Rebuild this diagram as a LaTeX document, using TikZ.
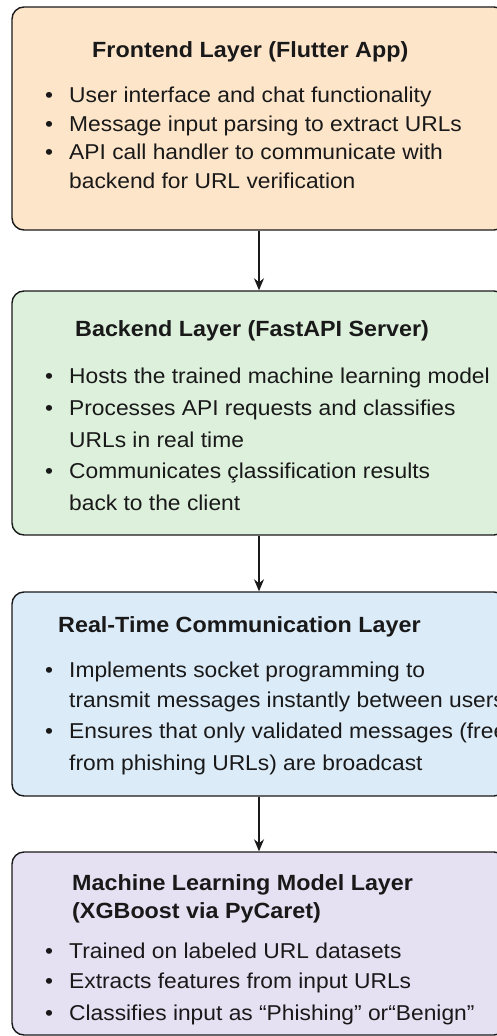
\documentclass[tikz,border=0pt]{standalone}
\usepackage{fontspec}
\setmainfont{Liberation Sans}[FakeStretch=1.06]
\usetikzlibrary{arrows.meta}
\definecolor{cfront}{HTML}{FDE5CA}
\definecolor{cback}{HTML}{DDF0DC}
\definecolor{creal}{HTML}{DCEBF8}
\definecolor{cml}{HTML}{E5E1F3}
\definecolor{cline}{HTML}{1A1A1A}
\tikzset{
  layerbox/.style={draw=cline, line width=1.4pt, rounded corners=12pt, minimum width=494pt, inner sep=0pt},
  ttl/.style={anchor=base west, inner sep=0pt, font=\fontsize{22}{26}\selectfont\bfseries, text=black!90},
  txt/.style={anchor=base west, inner sep=0pt, font=\fontsize{21.5}{26}\selectfont, text=black!90},
  bul/.style={anchor=base, inner sep=0pt, font=\fontsize{21.5}{26}\selectfont, text=black!90},
  flow/.style={-{Stealth[length=12pt,width=10pt]}, line width=1.4pt, draw=cline}
}
\begin{document}
\begin{tikzpicture}[x=1pt,y=-1pt]
\useasboundingbox (0,0) rectangle (497,1036);
% boxes
\node[layerbox, fill=cfront, minimum height=223pt] (front) at (259,118.5) {};
\node[layerbox, fill=cback, minimum height=244pt] (back) at (259,413) {};
\node[layerbox, fill=creal, minimum height=204pt] (real) at (259,694) {};
\node[layerbox, fill=cml, minimum height=183pt] (ml) at (259,943.5) {};
% arrows
\draw[flow] (front.south) -- (back.north);
\draw[flow] (back.south) -- (real.north);
\draw[flow] (real.south) -- (ml.north);
% frontend
\node[ttl] (t1) at (92,57) {Frontend Layer (Flutter App)};
\node[bul] (b11) at (49,102) {•};
\node[txt] (l11) at (69,102) {User interface and chat functionality};
\node[bul] (b12) at (49,131) {•};
\node[txt] (l12) at (69,131) {Message input parsing to extract URLs};
\node[bul] (b13) at (49,159.5) {•};
\node[txt] (l13) at (69,159.5) {API call handler to communicate with};
\node[txt] (l14) at (69,188) {backend for URL verification};
% backend
\node[ttl] (t2) at (75,336) {Backend Layer (FastAPI Server)};
\node[bul] (b21) at (49,383.5) {•};
\node[txt] (l21) at (69,383.5) {Hosts the trained machine learning model};
\node[bul] (b22) at (49,415.5) {•};
\node[txt] (l22) at (69,415.5) {Processes API requests and classifies};
\node[txt] (l23) at (69,447) {URLs in real time};
\node[bul] (b24) at (49,478.5) {•};
\node[txt] (l24) at (69,478.5) {Communicates çlassification results};
\node[txt] (l25) at (69,510) {back to the client};
% real-time
\node[ttl] (t3) at (58,632) {Real-Time Communication Layer};
\node[bul] (b31) at (49,677) {•};
\node[txt] (l31) at (69,677) {Implements socket programming to};
\node[txt] (l32) at (69,707) {transmit messages instantly between users};
\node[bul] (b33) at (49,738) {•};
\node[txt] (l33) at (69,738) {Ensures that only validated messages (free};
\node[txt] (l34) at (69,770) {from phishing URLs) are broadcast};
% ml
\node[ttl] (t4) at (72,890.5) {Machine Learning Model Layer};
\node[ttl] (t5) at (72,918.5) {(XGBoost via PyCaret)};
\node[bul] (b41) at (49,958) {•};
\node[txt] (l41) at (69,958) {Trained on labeled URL datasets};
\node[bul] (b42) at (49,988.5) {•};
\node[txt] (l42) at (69,988.5) {Extracts features from input URLs};
\node[bul] (b43) at (49,1020) {•};
\node[txt] (l43) at (69,1020) {Classifies input as “Phishing” or“Benign”};
\end{tikzpicture}
\end{document}
